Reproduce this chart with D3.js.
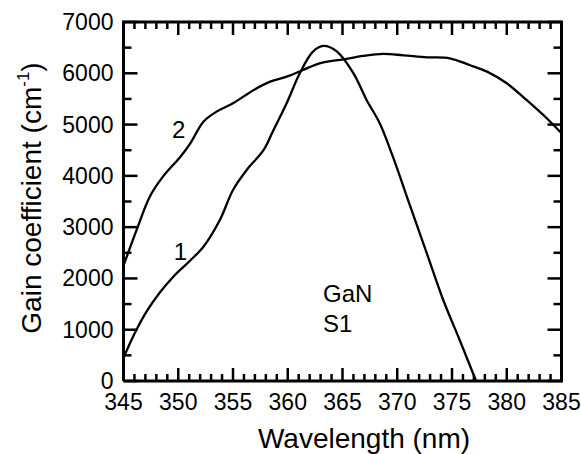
<!DOCTYPE html>
<html><head><meta charset="utf-8">
<script src="https://cdn.jsdelivr.net/npm/d3@7"></script>
<style>body{margin:0;background:#fff}svg{display:block}</style>
</head><body>
<svg id="c" width="581" height="454" font-family="Liberation Sans, Arial, sans-serif"></svg>
<script>
const xTicks = [345,350,355,360,365,370,375,380,385];
const yTicks = [0,1000,2000,3000,4000,5000,6000,7000];
const curve1X = [345.0,346.0,347.1,348.3,349.55,351.0,352.3,353.8,355.0,356.25,357.8,358.7,359.9,361.1,362.3,363.25,364.5,366.0,367.2,368.4,369.6,371.2,372.7,374.2,375.7,377.2];
const curve1Y = [450,920,1351,1720,2034,2330,2619,3140,3725,4115,4505,4895,5415,6000,6422,6533,6422,6000,5480,5025,4374,3399,2490,1580,800,0];
const curve2X = [345.0,346.2,347.4,348.6,350.2,351.1,352.3,353.5,355.0,356.9,358.4,359.9,361.4,362.9,365.1,366.9,368.7,370.55,372.7,374.8,376.6,378.2,380.0,381.8,383.65,385.0];
const curve2Y = [2250,2945,3594,3984,4374,4635,5057,5252,5415,5675,5837,5935,6065,6195,6273,6338,6377,6351,6312,6293,6162,6032,5805,5480,5123,4830];
const labels = [{t:"2",x:350.05,y:4740},{t:"1",x:350.2,y:2360}];
const note = ["GaN","S1"];

const svg = d3.select("#c");
const L=123.5,R=561.5,T=22,B=381;
const x = d3.scaleLinear().domain([345,385]).range([L,R]);
const y = d3.scaleLinear().domain([0,7000]).range([B,T]);
const xMinor = d3.range(345,386,1).filter(v=>v%5!==0);
const yMinor = d3.range(500,7000,1000);

const pix = d3.line().x(d=>d[0]).y(d=>d[1]);
// frame drawn as polyline in data space
const dataLine = d3.line().x(d=>x(d[0])).y(d=>y(d[1]));
svg.append("path").attr("d",dataLine([[345,0],[385,0],[385,7000],[345,7000],[345,0]]))
  .attr("fill","none").attr("stroke","black").attr("stroke-width",3).attr("stroke-linejoin","miter");

// ticks, each its own short polyline
const tk = [];
xTicks.forEach(v=>{tk.push([[x(v),B],[x(v),B-13]],[[x(v),T],[x(v),T+13]]);});
xMinor.forEach(v=>{tk.push([[x(v),B],[x(v),B-7]],[[x(v),T],[x(v),T+7]]);});
yTicks.forEach(v=>{tk.push([[L,y(v)],[L+14,y(v)]],[[R,y(v)],[R-14,y(v)]]);});
yMinor.forEach(v=>{tk.push([[L,y(v)],[L+8,y(v)]],[[R,y(v)],[R-8,y(v)]]);});
tk.forEach(s=>svg.append("path").attr("d",pix(s)).attr("fill","none").attr("stroke","black").attr("stroke-width",2.5));

// curves
const line = d3.line().x(d=>x(d[0])).y(d=>y(d[1])).curve(d3.curveCatmullRom.alpha(0.5));
[[curve1X,curve1Y],[curve2X,curve2Y]].forEach(([xs,ys])=>{
  svg.append("path").attr("d",line(xs.map((v,i)=>[v,ys[i]])))
    .attr("fill","none").attr("stroke","black").attr("stroke-width",2.3);
});

// tick labels
xTicks.forEach(d=>svg.append("text").attr("x",x(d)).attr("y",B+29).attr("text-anchor","middle").attr("font-size",23).text(d));
yTicks.forEach(d=>svg.append("text").attr("x",L-10).attr("y",y(d)+8).attr("text-anchor","end").attr("font-size",23).text(d));

labels.forEach(l=>svg.append("text").attr("x",x(l.x)).attr("y",y(l.y)).attr("text-anchor","middle").attr("font-size",24).text(l.t));
note.forEach((t,i)=>svg.append("text").attr("x",323).attr("y",302+i*30).attr("font-size",24).text(t));

svg.append("text").attr("x",364).attr("y",448).attr("text-anchor","middle").attr("font-size",28).text("Wavelength (nm)");
const yt = svg.append("text").attr("transform","translate(41,198) rotate(-90)").attr("text-anchor","middle").attr("font-size",28);
yt.append("tspan").text("Gain coefficient (cm");
yt.append("tspan").attr("font-size",17).attr("dy",-12).text("-1");
yt.append("tspan").attr("dy",12).text(")");
</script>
</body></html>
